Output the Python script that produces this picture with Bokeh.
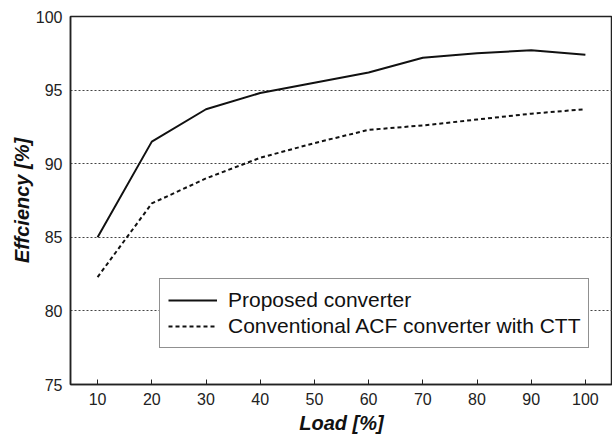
from bokeh.plotting import figure
from bokeh.models import Legend, LegendItem, FixedTicker, Range1d
from bokeh.embed import file_html
from bokeh.resources import INLINE

load = [10, 20, 30, 40, 50, 60, 70, 80, 90, 100]
proposed = [85.0, 91.5, 93.7, 94.8, 95.5, 96.2, 97.2, 97.5, 97.7, 97.4]
conventional = [82.3, 87.3, 89.0, 90.4, 91.4, 92.3, 92.6, 93.0, 93.4, 93.7]
x_ticks = [10, 20, 30, 40, 50, 60, 70, 80, 90, 100]
y_ticks = [75, 80, 85, 90, 95, 100]
series_names = ["Proposed converter", "Conventional ACF converter with CTT"]

FONT = "Liberation Sans"

p = figure(width=612, height=436, output_backend="svg", toolbar_location=None,
           x_range=Range1d(5, 105), y_range=Range1d(75, 100),
           min_border_left=70, min_border_right=0, min_border_top=16, min_border_bottom=42)

p.background_fill_color = "white"
p.border_fill_color = "white"
p.outline_line_color = "#222222"
p.outline_line_width = 1.5

r1 = p.line(load, proposed, line_color="#111111", line_width=2)
r2 = p.line(load, conventional, line_color="#111111", line_width=2, line_dash="4 3")

p.xaxis.ticker = FixedTicker(ticks=x_ticks)
p.yaxis.ticker = FixedTicker(ticks=y_ticks)
p.xgrid.visible = False
p.ygrid.ticker = FixedTicker(ticks=[80, 85, 90, 95])
p.ygrid.grid_line_color = "#444444"
p.ygrid.grid_line_width = 1
p.ygrid.grid_line_dash = "2 2"

for ax in (p.xaxis[0], p.yaxis[0]):
    ax.axis_line_color = "#222222"
    ax.axis_line_width = 1.5
    ax.major_label_text_font = FONT
    ax.major_label_text_font_size = "16px"
    ax.major_label_text_color = "#222222"
    ax.axis_label_text_font = FONT
    ax.axis_label_text_font_size = "20px"
    ax.axis_label_text_font_style = "bold italic"
    ax.axis_label_text_color = "#111111"
    ax.minor_tick_line_color = None

p.xaxis.major_tick_in = 5
p.xaxis.major_tick_out = 0
p.xaxis.major_tick_line_color = "#222222"
p.xaxis.major_label_standoff = 8
p.xaxis.axis_label = "Load [%]"
p.xaxis.axis_label_standoff = 4

p.yaxis.major_tick_in = 0
p.yaxis.major_tick_out = 0
p.yaxis.major_label_standoff = 8
p.yaxis.axis_label = "Effciency [%]"
p.yaxis.axis_label_standoff = 0

legend = Legend(items=[LegendItem(label=series_names[0], renderers=[r1]),
                       LegendItem(label=series_names[1], renderers=[r2])],
                location=(89, 36))
legend.label_text_font = FONT
legend.label_text_font_size = "21px"
legend.label_text_color = "#111111"
legend.glyph_width = 49
legend.label_standoff = 11
legend.label_height = 26
legend.glyph_height = 26
legend.spacing = 0
legend.padding = 8
legend.margin = 0
legend.border_line_color = "#222222"
legend.border_line_width = 1.5
legend.background_fill_alpha = 1
p.add_layout(legend, "center")

open("out.html", "w").write(file_html(p, INLINE))
